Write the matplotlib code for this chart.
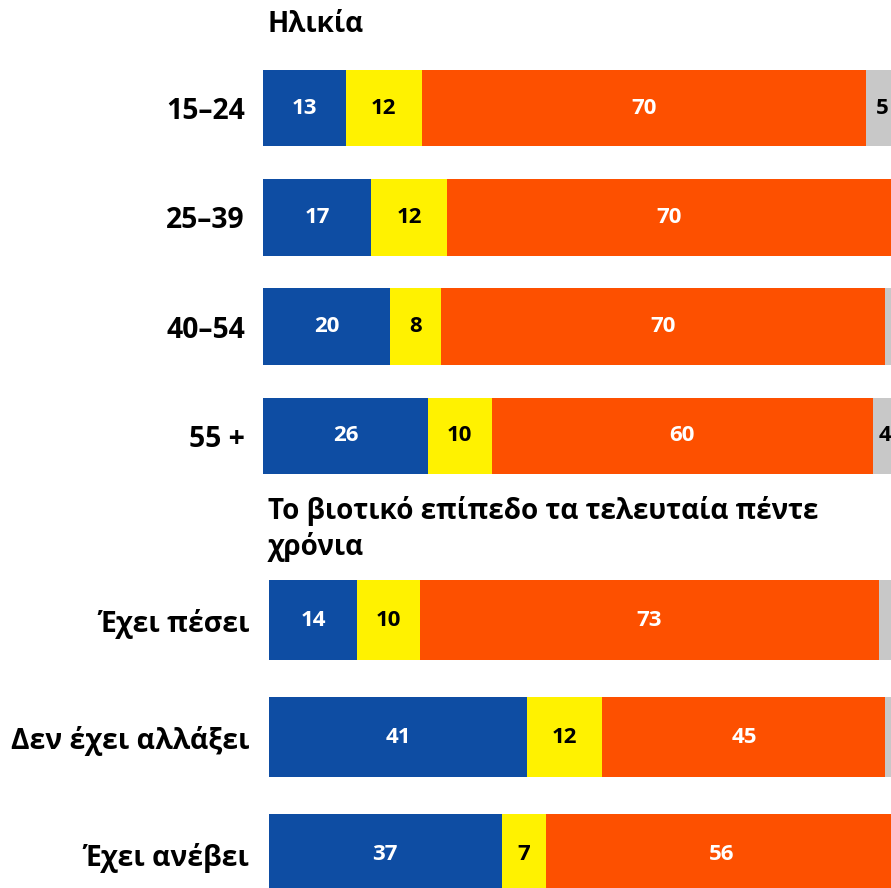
import matplotlib
matplotlib.use("Agg")
import matplotlib.pyplot as plt

plt.rcParams['font.family'] = ['Open Sans', 'DejaVu Sans']

# age groups
age_labels = ['15–24', '25–39', '40–54', '55 +']
age_better = [13, 17, 20, 26]
age_same = [12, 12, 8, 10]
age_worse = [70, 70, 70, 60]
age_dk = [5, 1, 2, 4]

# living standard over the last five years
life_labels = ['Έχει πέσει', 'Δεν έχει αλλάξει', 'Έχει ανέβει']
life_better = [14, 41, 37]
life_same = [10, 12, 7]
life_worse = [73, 45, 56]
life_dk = [3, 2, 0]

colors = ['#0E4DA3', '#FFF200', '#FD5000', '#C8C8C8']
text_colors = ['white', 'black', 'white', 'black']

W, H = 891, 888
fig = plt.figure(figsize=(W / 100, H / 100), dpi=100)


def px_axes(left, top, right, bottom):
    return fig.add_axes([left / W, 1 - bottom / H, (right - left) / W, (bottom - top) / H])


def draw_group(ax, labels, series, bar_h, pad):
    n = len(labels)
    ys = list(range(n))
    left = [0] * n
    for vals, c, tc in zip(series, colors, text_colors):
        ax.barh(ys, vals, left=left, height=bar_h, color=c, edgecolor='none')
        for y, l, v in zip(ys, left, vals):
            if v >= 4:
                ax.text(l + v / 2, y, str(v), ha='center', va='center',
                        color=tc, fontsize=16, fontweight='bold')
        left = [a + b for a, b in zip(left, vals)]
    ax.set_xlim(0, 100)
    ax.set_ylim(n - 0.5, -0.5)
    ax.set_yticks(ys)
    ax.set_yticklabels(labels, fontsize=20.3, fontweight='bold')
    ax.tick_params(axis='y', length=0, pad=pad)
    ax.set_xticks([])
    for s in ax.spines.values():
        s.set_visible(False)


ax1 = px_axes(263, 53.5, 898, 490.5)
draw_group(ax1, age_labels, [age_better, age_same, age_worse, age_dk], 0.70, 13)

ax2 = px_axes(269, 561.5, 898, 912.5)
draw_group(ax2, life_labels, [life_better, life_same, life_worse, life_dk], 0.684, 14)

fig.text(268 / W, 1 - 25 / H, 'Ηλικία', fontsize=20, fontweight='bold',
         ha='left', va='center')
fig.text(268 / W, 1 - 529 / H, 'Το βιοτικό επίπεδο τα τελευταία πέντε\nχρόνια',
         fontsize=20, fontweight='bold', ha='left', va='center', linespacing=1.25)

fig.savefig('out.png', dpi=100)
